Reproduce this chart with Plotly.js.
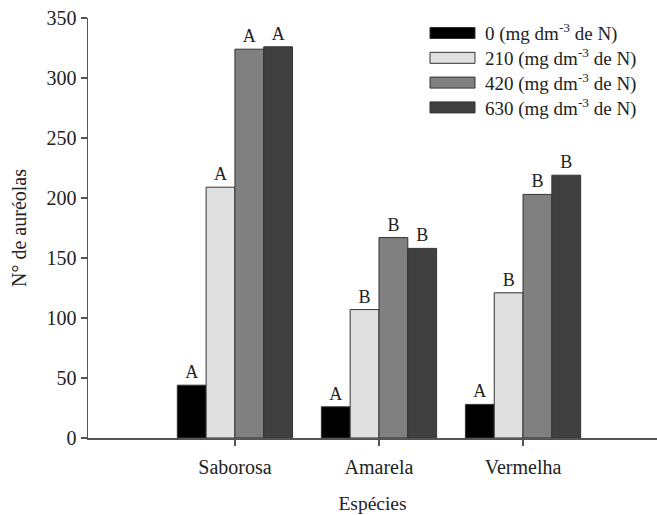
<!DOCTYPE html>
<html>
<head>
<meta charset="utf-8">
<script src="https://cdn.plot.ly/plotly-3.0.1.min.js"></script>
<style>
  html, body { margin: 0; padding: 0; background: #fff; }
  #chart { width: 657px; height: 515px; }
</style>
</head>
<body>
<div id="chart"></div>
<script>
// Species on the x axis
const especies = ['Saborosa', 'Amarela', 'Vermelha'];

// Nitrogen doses (mg dm-3 de N)
const doses = ['0', '210', '420', '630'];

// Number of areoles per species, one array per dose
const dose0   = [44, 26, 28];
const dose210 = [209, 107, 121];
const dose420 = [324, 167, 203];
const dose630 = [326, 158, 219];

// Mean-comparison letters shown above each bar
const letras0   = ['A', 'A', 'A'];
const letras210 = ['A', 'B', 'B'];
const letras420 = ['A', 'B', 'B'];
const letras630 = ['A', 'B', 'B'];

const valores = [dose0, dose210, dose420, dose630];
const letras = [letras0, letras210, letras420, letras630];
const cores = ['#000000', '#e0e0e0', '#808080', '#404040'];

const serif = '"Liberation Serif", "Times New Roman", serif';
const ink = '#222';

const traces = doses.map((d, i) => ({
  type: 'bar',
  name: d + ' (mg dm<sup>-3</sup> de N)',
  x: especies,
  y: valores[i],
  text: letras[i],
  textposition: 'outside',
  textfont: { family: serif, size: 18, color: ink },
  cliponaxis: false,
  marker: { color: cores[i], line: { color: '#333', width: 1 } },
  showlegend: false,
  hoverinfo: 'x+y'
}));

// Legend drawn as wide swatches with labels, stacked at the top right
const shapes = [];
const annotations = [];
const W = 657, H = 515;
const L = 88, T = 18, PW = 569, PH = 420;
const legTop = 33, legStep = 24.8;
doses.forEach((d, i) => {
  const cy = legTop + i * legStep;
  shapes.push({
    type: 'rect', xref: 'paper', yref: 'paper',
    x0: (430 - L) / PW, x1: (475 - L) / PW,
    y0: 1 - ((cy - 5.5) - T) / PH, y1: 1 - ((cy + 5.5) - T) / PH,
    fillcolor: cores[i], line: { color: '#333', width: 1 }
  });
  annotations.push({
    xref: 'paper', yref: 'paper',
    x: (483 - L) / PW, y: 1 - (cy - T) / PH,
    xanchor: 'left', yanchor: 'middle', showarrow: false,
    text: d + ' (mg dm<sup>-3</sup> de N)',
    font: { family: serif, size: 19, color: ink }
  });
});

const layout = {
  width: W, height: H,
  margin: { l: L, r: W - L - PW, t: T, b: H - T - PH },
  paper_bgcolor: '#fff', plot_bgcolor: '#fff',
  barmode: 'group', bargap: 0.2, bargroupgap: 0,
  font: { family: serif, size: 19, color: ink },
  xaxis: {
    range: [-1.02, 2.93],
    showgrid: false, zeroline: false,
    showline: true, linecolor: '#555', linewidth: 1.5,
    ticks: 'outside', ticklen: 6, tickcolor: '#555', tickwidth: 1.5,
    ticklabelstandoff: 4,
    tickfont: { family: serif, size: 20, color: ink },
    title: { text: 'Espécies', font: { family: serif, size: 19.5, color: ink }, standoff: 20 }
  },
  yaxis: {
    range: [0, 350],
    tickvals: [0, 50, 100, 150, 200, 250, 300, 350],
    showgrid: false, zeroline: false,
    showline: true, linecolor: '#555', linewidth: 1.5,
    ticks: 'outside', ticklen: 6, tickcolor: '#555', tickwidth: 1.5,
    tickfont: { family: serif, size: 20, color: ink },
    title: { text: 'N° de auréolas', font: { family: serif, size: 20, color: ink }, standoff: 14 }
  },
  shapes: shapes,
  annotations: annotations
};

Plotly.newPlot('chart', traces, layout, { displayModeBar: false, staticPlot: true });
</script>
</body>
</html>
